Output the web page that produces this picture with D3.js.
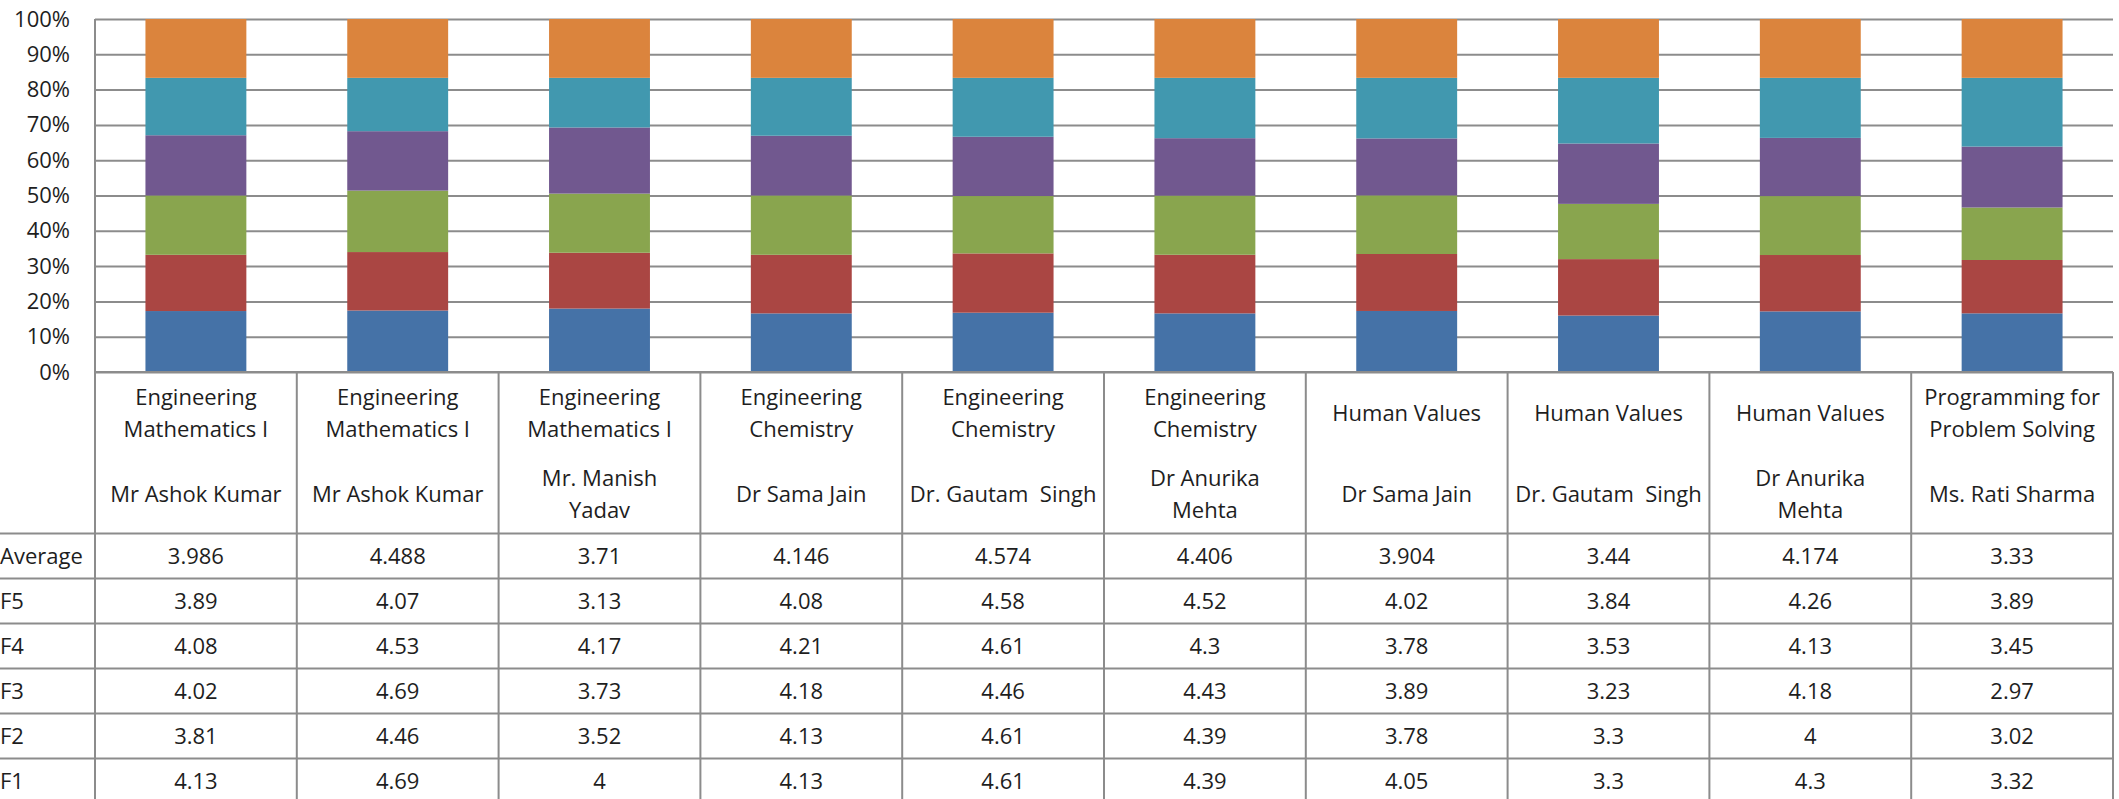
<!DOCTYPE html>
<html>
<head>
<meta charset="utf-8">
<script src="https://cdn.jsdelivr.net/npm/d3@7"></script>
<style>
  body { margin: 0; background: #fff; }
  svg text { font-family: "Open Sans", "Noto Sans", sans-serif; fill: #1e1e1e; }
</style>
</head>
<body>
<svg id="chart"></svg>
<script>
// categories: subject + teacher (line breaks as in the table header)
let subjects = [
  "Engineering\nMathematics I", "Engineering\nMathematics I", "Engineering\nMathematics I",
  "Engineering\nChemistry", "Engineering\nChemistry", "Engineering\nChemistry",
  "Human Values", "Human Values", "Human Values",
  "Programming for\nProblem Solving"
]
let teachers = [
  "Mr Ashok Kumar", "Mr Ashok Kumar", "Mr. Manish\nYadav",
  "Dr Sama Jain", "Dr. Gautam  Singh", "Dr Anurika\nMehta",
  "Dr Sama Jain", "Dr. Gautam  Singh", "Dr Anurika\nMehta",
  "Ms. Rati Sharma"
]

let F1 = [4.13, 4.69, 4, 4.13, 4.61, 4.39, 4.05, 3.3, 4.3, 3.32]
let F2 = [3.81, 4.46, 3.52, 4.13, 4.61, 4.39, 3.78, 3.3, 4, 3.02]
let F3 = [4.02, 4.69, 3.73, 4.18, 4.46, 4.43, 3.89, 3.23, 4.18, 2.97]
let F4 = [4.08, 4.53, 4.17, 4.21, 4.61, 4.3, 3.78, 3.53, 4.13, 3.45]
let F5 = [3.89, 4.07, 3.13, 4.08, 4.58, 4.52, 4.02, 3.84, 4.26, 3.89]
let Average = [3.986, 4.488, 3.71, 4.146, 4.574, 4.406, 3.904, 3.44, 4.174, 3.33]

let seriesNames = ["F1", "F2", "F3", "F4", "F5", "Average"]
let seriesValues = [F1, F2, F3, F4, F5, Average]
let colors = ["#4572A7", "#AA4643", "#89A54E", "#71588F", "#4198AF", "#DB843D"]
let tableOrder = ["Average", "F5", "F4", "F3", "F2", "F1"]

let width = 2119
let height = 799
let margin = { left: 95, right: 2113, top: 19, axis: 372 }
let headerBottom = 533.5
let rowH = 45
let gridColor = "#8c8c8c"

let svg = d3.select("#chart").attr("width", width).attr("height", height)

// rows for the stack
let rows = subjects.map((s, i) => {
  let r = { idx: i }
  seriesNames.forEach((k, j) => r[k] = seriesValues[j][i])
  return r
})

let stacked = d3.stack().keys(seriesNames).offset(d3.stackOffsetExpand)(rows)

let x = d3.scaleBand()
  .domain(d3.range(subjects.length))
  .range([margin.left, margin.right])
  .paddingInner(0.5)
  .paddingOuter(0.25)

let col = d3.scaleBand()
  .domain(d3.range(subjects.length))
  .range([margin.left, margin.right])

let y = d3.scaleLinear()
  .domain([0, 1])
  .range([margin.axis, margin.top])

// gridlines + y labels
let yAxis = svg.append("g")
  .attr("transform", `translate(${margin.left},0)`)
  .call(d3.axisLeft(y).ticks(10).tickSize(-(margin.right - margin.left)).tickPadding(25).tickFormat(d3.format(".0%")))
yAxis.select(".domain").remove()
yAxis.selectAll("line").attr("stroke", gridColor).attr("stroke-width", 2)
yAxis.selectAll("text").attr("font-size", "22px").attr("font-family", null)

// bars
svg.append("g")
  .selectAll("g")
  .data(stacked)
  .enter()
  .append("g")
  .attr("fill", (d, i) => colors[i])
  .selectAll("rect")
  .data(d => d)
  .enter()
  .append("rect")
  .attr("x", d => x(d.data.idx))
  .attr("y", d => y(d[1]))
  .attr("height", d => y(d[0]) - y(d[1]))
  .attr("width", x.bandwidth())

// data table
let table = svg.append("g")
let lineCol = d3.range(subjects.length + 1).map(i => i < subjects.length ? col(i) : margin.right)

table.append("line")
  .attr("x1", margin.left).attr("x2", margin.right)
  .attr("y1", margin.axis).attr("y2", margin.axis)

tableOrder.forEach((name, r) => {
  table.append("line")
    .attr("x1", 0).attr("x2", margin.right)
    .attr("y1", headerBottom + r * rowH).attr("y2", headerBottom + r * rowH)
})

table.append("line")
  .attr("x1", margin.left).attr("x2", margin.left)
  .attr("y1", margin.top).attr("y2", height)

lineCol.slice(1).forEach(xx => {
  table.append("line")
    .attr("x1", xx).attr("x2", xx)
    .attr("y1", margin.axis).attr("y2", height)
})
table.selectAll("line").attr("stroke", gridColor).attr("stroke-width", 2)

function multiline(g, txt, cx, cy) {
  let parts = txt.split("\n")
  let lh = 32
  let t = g.append("text")
    .attr("text-anchor", "middle")
    .attr("font-size", "22px")
  parts.forEach((p, k) => {
    t.append("tspan")
      .attr("x", cx)
      .attr("y", cy + (k - (parts.length - 1) / 2) * lh)
      .attr("dy", "0.35em")
      .attr("xml:space", "preserve")
      .text(p)
  })
}

subjects.forEach((s, i) => {
  let cx = col(i) + col.bandwidth() / 2
  multiline(table, s, cx, 413)
  multiline(table, teachers[i], cx, 494)
})

tableOrder.forEach((name, r) => {
  let cy = headerBottom + r * rowH + rowH / 2
  table.append("text")
    .attr("x", 0)
    .attr("y", cy)
    .attr("dy", "0.35em")
    .attr("font-size", "22px")
    .text(name)
  let vals = seriesValues[seriesNames.indexOf(name)]
  vals.forEach((v, i) => {
    table.append("text")
      .attr("x", col(i) + col.bandwidth() / 2)
      .attr("y", cy)
      .attr("dy", "0.35em")
      .attr("text-anchor", "middle")
      .attr("font-size", "22px")
      .text(v)
  })
})
</script>
</body>
</html>
